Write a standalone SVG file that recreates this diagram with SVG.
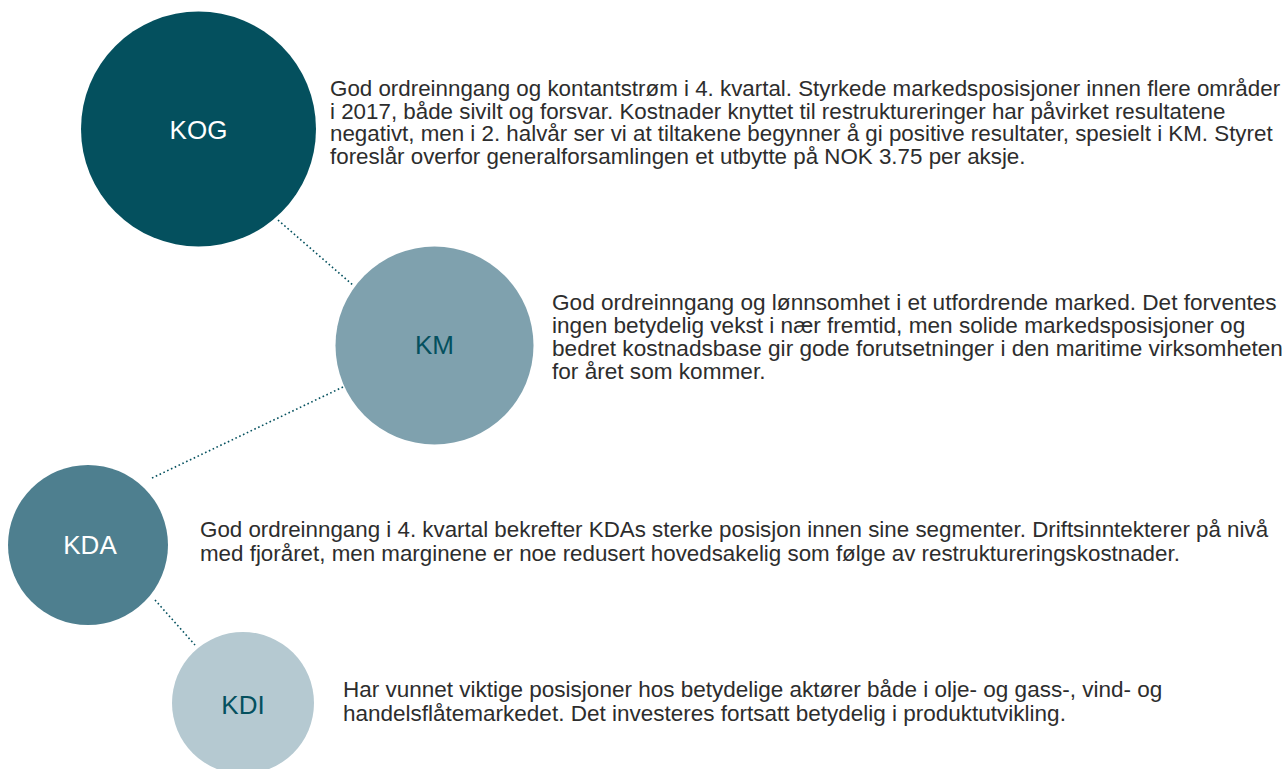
<svg xmlns="http://www.w3.org/2000/svg" width="1288" height="769" viewBox="0 0 1288 769">
<style>
.lbl{font-family:"Liberation Sans",Arial,sans-serif;font-size:26px;text-anchor:middle}
.light{fill:#ffffff}
.dark{fill:#04505e}
.body{font-family:"Liberation Sans",Arial,sans-serif;font-size:22.35px;fill:#2d2d2d}
.conn{fill:none;stroke:#04505e;stroke-width:1.6;stroke-dasharray:1.6 2.6}
</style>
<rect width="1288" height="769" fill="#ffffff"/>
<g id="connectors">
<line class="conn" x1="278" y1="220" x2="354" y2="286"/>
<line class="conn" x1="343" y1="387" x2="150" y2="479"/>
<line class="conn" x1="155" y1="600" x2="195" y2="645"/>
</g>
<g id="node-kog">
<circle cx="198.5" cy="129" r="117.5" fill="#04505e"/>
<text class="lbl light" x="198.5" y="139">KOG</text>
<text class="body"><tspan x="330" y="96">God ordreinngang og kontantstrøm i 4. kvartal. Styrkede markedsposisjoner innen flere områder</tspan><tspan x="330" y="118.7">i 2017, både sivilt og forsvar. Kostnader knyttet til restruktureringer har påvirket resultatene</tspan><tspan x="330" y="141.4">negativt, men i 2. halvår ser vi at tiltakene begynner å gi positive resultater, spesielt i KM. Styret</tspan><tspan x="330" y="164">foreslår overfor generalforsamlingen et utbytte på NOK 3.75 per aksje.</tspan></text>
</g>
<g id="node-km">
<circle cx="434.5" cy="345.5" r="99" fill="#7fa1ae"/>
<text class="lbl dark" x="434.5" y="354">KM</text>
<text class="body" style="font-size:22.6px"><tspan x="552" y="310">God ordreinngang og lønnsomhet i et utfordrende marked. Det forventes</tspan><tspan x="552" y="333">ingen betydelig vekst i nær fremtid, men solide markedsposisjoner og</tspan><tspan x="552" y="356">bedret kostnadsbase gir gode forutsetninger i den maritime virksomheten</tspan><tspan x="552" y="379">for året som kommer.</tspan></text>
</g>
<g id="node-kda">
<circle cx="88" cy="545" r="80" fill="#4e7f8f"/>
<text class="lbl light" x="90" y="554">KDA</text>
<text class="body"><tspan x="200" y="537">God ordreinngang i 4. kvartal bekrefter KDAs sterke posisjon innen sine segmenter. Driftsinntekterer på nivå</tspan><tspan x="200" y="561">med fjoråret, men marginene er noe redusert hovedsakelig som følge av restruktureringskostnader.</tspan></text>
</g>
<g id="node-kdi">
<circle cx="243" cy="703" r="71" fill="#b5c9d1"/>
<text class="lbl dark" x="243" y="714">KDI</text>
<text class="body" style="font-size:22.5px"><tspan x="343" y="697">Har vunnet viktige posisjoner hos betydelige aktører både i olje- og gass-, vind- og</tspan><tspan x="343" y="721">handelsflåtemarkedet. Det investeres fortsatt betydelig i produktutvikling.</tspan></text>
</g>
</svg>
